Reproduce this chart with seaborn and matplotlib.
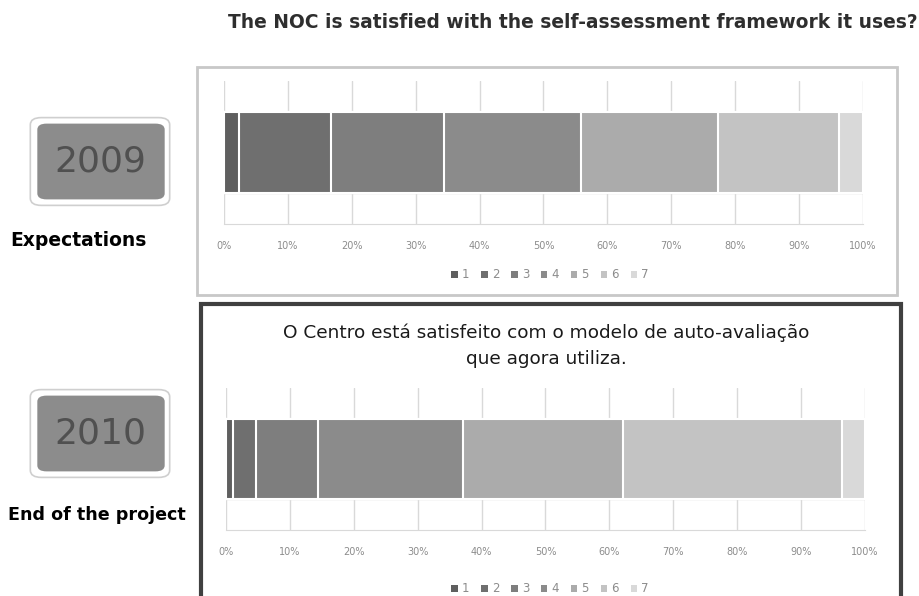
import numpy as np
import pandas as pd
import matplotlib.pyplot as plt
import seaborn as sns
from matplotlib.patches import Patch, FancyBboxPatch, Rectangle


levels = ["1", "2", "3", "4", "5", "6", "7"]
pct_2009 = [2.3, 14.5, 17.7, 21.3, 21.5, 18.9, 3.8]
pct_2010 = [1.1, 3.6, 9.7, 22.7, 25.0, 34.3, 3.6]
tick_vals = [0, 10, 20, 30, 40, 50, 60, 70, 80, 90, 100]
tick_labels = ["0%", "10%", "20%", "30%", "40%", "50%", "60%", "70%", "80%", "90%", "100%"]

colors = ["#5f5f5f", "#6f6f6f", "#7e7e7e", "#8b8b8b", "#ababab", "#c3c3c3", "#d9d9d9"]

sns.set_style("white")
plt.rcParams["font.family"] = ["DejaVu Sans"]

W, H = 920, 596
fig = plt.figure(figsize=(9.2, 5.96), dpi=100)


def fx(x):
    return x / W


def fy(y):
    return 1 - y / H


def stacked(ax, year, values):
    df = pd.DataFrame({"level": levels, "pct": values})
    df["cum"] = df["pct"].cumsum()
    # draw cumulative bars from the longest down, so each shorter one sits on top
    for i in range(len(df) - 1, -1, -1):
        sns.barplot(x=[df["cum"][i]], y=[year], orient="h", color=colors[i],
                    saturation=1, width=0.57, edgecolor="white", linewidth=1.5, ax=ax)
    ax.set_xlim(0, 100)
    ax.set_ylim(0.5, -0.5)
    ax.set_xticks(tick_vals)
    ax.set_xticklabels(tick_labels, color="#8c8c8c", fontsize=7)
    ax.tick_params(axis="x", length=0, pad=12)
    ax.set_yticks([])
    ax.set_xlabel("")
    ax.set_ylabel("")
    ax.grid(axis="x", color="#d9d9d9", linewidth=1)
    ax.set_axisbelow(True)
    ax.axhline(0.285, color="#d9d9d9", linewidth=1, zorder=0.5)
    for s in ["top", "left", "right"]:
        ax.spines[s].set_visible(False)
    ax.spines["bottom"].set_color("#d9d9d9")


def legend(cx, cy):
    handles = [Patch(facecolor=c, edgecolor="none") for c in colors]
    fig.legend(handles, levels, loc="center", bbox_to_anchor=(fx(cx), fy(cy)),
               ncol=7, frameon=False, fontsize=8.5, labelcolor="#8c8c8c",
               handlelength=0.55, handleheight=0.55, handletextpad=0.35, columnspacing=1.0)


# frames around the two charts
fig.add_artist(Rectangle((fx(197), fy(295)), fx(897) - fx(197), fy(67) - fy(295),
                         transform=fig.transFigure, facecolor="none",
                         edgecolor="#c8c8c8", linewidth=2))
fig.add_artist(Rectangle((fx(201), fy(620)), fx(901) - fx(201), fy(304) - fy(620),
                         transform=fig.transFigure, facecolor="none",
                         edgecolor="#404040", linewidth=3, clip_on=False))

ax1 = fig.add_axes([fx(224), fy(224), fx(863) - fx(224), fy(81) - fy(224)])
stacked(ax1, "2009", pct_2009)
legend(550, 275)

ax2 = fig.add_axes([fx(226), fy(530), fx(865) - fx(226), fy(388) - fy(530)])
stacked(ax2, "2010", pct_2010)
legend(550, 589)

fig.text(fx(546), fy(346), "O Centro está satisfeito com o modelo de auto-avaliação\nque agora utiliza.",
         ha="center", va="center", fontsize=13.3, color="#1a1a1a", linespacing=1.55)

fig.text(fx(573), fy(22), "The NOC is satisfied with the self-assessment framework it uses?",
         ha="center", va="center", fontsize=13.4, fontweight="bold", color="#2e2e2e")

# year badges on the left
for (y0, y1, year, label, lx, ly, lfs) in [(118, 205, "2009", "Expectations", 78, 240, 13.5),
                                           (390, 477, "2010", "End of the project", 97, 515, 12.6)]:
    fig.add_artist(FancyBboxPatch((fx(34), fy(y1 - 2)), fx(166) - fx(34), fy(y0 + 2) - fy(y1 - 2),
                                  boxstyle="round,pad=0.004,rounding_size=0.012",
                                  transform=fig.transFigure, facecolor="white",
                                  edgecolor="#cfcfcf", linewidth=1.2))
    fig.add_artist(FancyBboxPatch((fx(41), fy(y1 - 8)), fx(161) - fx(41), fy(y0 + 8) - fy(y1 - 8),
                                  boxstyle="round,pad=0.004,rounding_size=0.01",
                                  transform=fig.transFigure, facecolor="#8c8c8c",
                                  edgecolor="none"))
    fig.text(fx(100), fy((y0 + y1) / 2), year, ha="center", va="center",
             fontsize=26, color="#505050")
    fig.text(fx(lx), fy(ly), label, ha="center", va="center",
             fontsize=lfs, fontweight="bold", color="black")

plt.savefig("out.png", dpi=100)
